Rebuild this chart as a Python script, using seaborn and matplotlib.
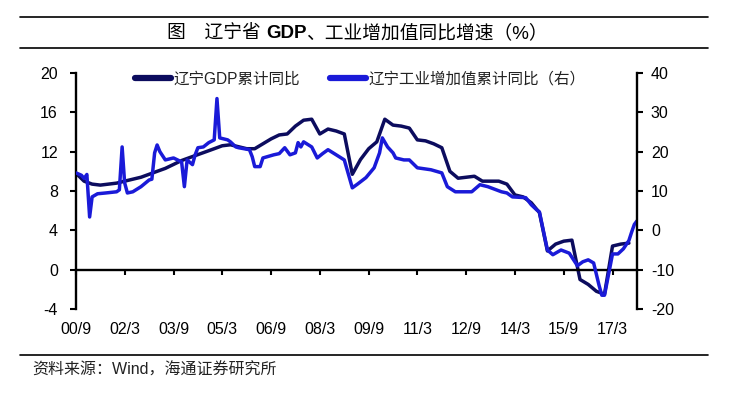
import matplotlib
matplotlib.use('Agg')
import matplotlib.pyplot as plt
from matplotlib.lines import Line2D
import seaborn as sns
import pandas as pd

# ---------------- data ----------------
gdp_start = '2000-09-01'   # quarterly cumulative YoY, Liaoning GDP (left axis)
gdp_values = [9.8, 9.0, 8.7, 8.6, 8.7, 8.8, 9.0, 9.2, 9.4, 9.7,
              10.0, 10.3, 10.7, 11.1, 11.4, 11.7, 12.0, 12.3, 12.6, 12.7,
              12.5, 12.3, 12.3, 12.8, 13.3, 13.7, 13.8, 14.6, 15.2, 15.3,
              13.8, 14.3, 14.1, 13.8, 9.7, 11.2, 12.3, 13.0, 15.3, 14.7,
              14.6, 14.4, 13.2, 13.1, 12.8, 12.4, 10.0, 9.3, 9.4, 9.5,
              9.0, 9.0, 9.0, 8.7, 7.6, 7.4, 6.8, 5.8, 1.9, 2.6,
              2.9, 3.0, -1.0, -1.5, -2.2, -2.5, 2.4, 2.6, 2.7]

ind_dates = ['2000-09', '2000-11', '2000-12', '2001-01', '2001-02', '2001-03', '2001-05',
             '2001-08', '2001-12', '2002-01', '2002-02', '2002-03', '2002-04', '2002-06',
             '2002-09', '2002-12', '2003-01', '2003-02', '2003-03', '2003-04', '2003-06',
             '2003-09', '2003-12', '2004-01', '2004-02', '2004-04', '2004-05', '2004-06',
             '2004-08', '2004-10', '2004-12', '2005-01', '2005-02', '2005-05', '2005-06',
             '2005-08', '2005-09', '2006-01', '2006-02', '2006-03', '2006-05', '2006-06',
             '2006-10', '2006-12', '2007-02', '2007-04', '2007-06', '2007-07', '2007-08',
             '2007-09', '2007-12', '2008-02', '2008-04', '2008-06', '2008-09', '2008-12',
             '2009-03', '2009-05', '2009-08', '2009-11', '2010-01', '2010-02', '2010-04',
             '2010-06', '2010-07', '2010-10', '2010-12', '2011-03', '2011-08', '2011-12',
             '2012-02', '2012-05', '2012-11', '2013-02', '2013-05', '2013-10', '2013-12',
             '2014-02', '2014-07', '2014-09', '2014-11', '2014-12', '2015-03', '2015-05',
             '2015-08', '2015-11', '2016-02', '2016-04', '2016-06', '2016-08', '2016-10',
             '2016-11', '2016-12', '2017-02', '2017-03', '2017-05', '2017-07', '2017-09',
             '2017-10', '2017-11', '2017-12']
ind_values = [14.6, 14.0, 13.2, 14.2, 3.4, 8.5, 9.3,
              9.5, 9.8, 10.3, 21.2, 12.1, 9.5, 9.8,
              11.1, 12.8, 13.0, 19.7, 21.7, 20.0, 17.9,
              18.4, 17.4, 11.1, 17.9, 16.7, 19.2, 21.0,
              21.2, 22.3, 23.0, 33.5, 23.5, 23.0, 22.5,
              21.2, 21.0, 20.5, 18.7, 16.2, 16.2, 18.4,
              19.2, 19.5, 21.0, 19.2, 19.7, 22.3, 21.2,
              22.5, 21.2, 18.4, 19.5, 20.5, 19.2, 17.9,
              10.8, 11.8, 13.4, 15.9, 19.7, 23.5, 21.2,
              19.7, 18.4, 17.9, 17.9, 15.9, 15.4, 14.6,
              11.1, 9.8, 9.8, 11.6, 11.1, 9.8, 9.5,
              8.5, 8.3, 6.5, 5.2, 4.7, -5.0, -6.2,
              -5.0, -5.8, -9.0, -8.0, -7.5, -8.3, -14.0,
              -16.5, -16.5, -9.3, -6.0, -6.0, -4.7, -2.6,
              -0.5, 1.5, 2.4]

xtick_dates = ['2000-09', '2002-03', '2003-09', '2005-03', '2006-09', '2008-03',
               '2009-09', '2011-03', '2012-09', '2014-03', '2015-09', '2017-03']
xtick_labels = ['00/9', '02/3', '03/9', '05/3', '06/9', '08/3',
                '09/9', '11/3', '12/9', '14/3', '15/9', '17/3']
left_ticks = [-4, 0, 4, 8, 12, 16, 20]
right_ticks = [-20, -10, 0, 10, 20, 30, 40]

gdp_label = '辽宁GDP累计同比'
ind_label = '辽宁工业增加值累计同比（右）'
title_parts = [('图\u3000辽宁省 ', 'normal'), ('GDP', 'bold'), ('、工业增加值同比增速（%）', 'normal')]
source_text = '资料来源：Wind，海通证券研究所'

# ---------------- style ----------------
sns.set_style('white')
plt.rcParams['font.family'] = ['Liberation Sans', 'Noto Sans CJK SC']
plt.rcParams['axes.unicode_minus'] = False

GDP_C = '#0c0c5e'
IND_C = '#1a1ad8'

W, H = 736, 397
fig = plt.figure(figsize=(W / 100, H / 100), dpi=100)
fig.patch.set_facecolor('white')
ax = fig.add_axes([76 / W, 1 - 309 / H, (637 - 76) / W, (309 - 73) / H])
ax.set_facecolor('white')

gdp_df = pd.DataFrame({'date': pd.date_range(gdp_start, periods=len(gdp_values), freq='3MS'),
                       'value': gdp_values})
ind_df = pd.DataFrame({'date': pd.to_datetime(ind_dates), 'value': ind_values})

sns.lineplot(data=gdp_df, x='date', y='value', ax=ax, color=GDP_C, linewidth=2.5,
             legend=False)
ax2 = ax.twinx()
sns.lineplot(data=ind_df, x='date', y='value', ax=ax2, color=IND_C, linewidth=2.5,
             legend=False)

ax.set_xlim(pd.Timestamp('2000-09-01'), pd.Timestamp('2017-12-01'))
ax.set_ylim(-4, 20)
ax2.set_ylim(-20, 40)
ax.set_yticks(left_ticks)
ax.set_yticklabels([str(v) for v in left_ticks])
ax2.set_yticks(right_ticks)
ax2.set_yticklabels([str(v) for v in right_ticks])
ax.set_xticks(pd.to_datetime(xtick_dates))
ax.set_xticklabels(xtick_labels)
for a in (ax, ax2):
    a.set_xlabel('')
    a.set_ylabel('')
    a.grid(False)

for s in ['top', 'right']:
    ax.spines[s].set_visible(False)
ax.spines['bottom'].set_position(('data', 0))
for s in ['top', 'left', 'bottom']:
    ax2.spines[s].set_visible(False)
for sp in (ax.spines['left'], ax.spines['bottom'], ax2.spines['right']):
    sp.set_linewidth(1.7)
    sp.set_color('black')

ax.tick_params(axis='y', direction='out', length=4.5, width=1.5, pad=8.5,
               labelsize=11.5, left=True, colors='black')
ax.tick_params(axis='x', direction='out', length=3.8, width=1.5, pad=34,
               labelsize=11.5, bottom=True, colors='black')
ax2.tick_params(axis='y', direction='out', length=4.5, width=1.5, pad=5.5,
                labelsize=11.5, right=True, colors='black')

# legend
leg = fig.legend([ax.lines[0], ax2.lines[0]], [gdp_label, ind_label],
                 loc='center left', bbox_to_anchor=(135 / W, 1 - 79 / H),
                 bbox_transform=fig.transFigure, ncol=2, frameon=False,
                 fontsize=11.2, handlelength=2.3, handletextpad=0.2,
                 columnspacing=1.9, borderpad=0, borderaxespad=0)
for h in leg.legend_handles:
    h.set_linewidth(4.5)
for t in leg.get_texts():
    t.set_color('#222222')

# frame lines
for y in (17, 48, 355):
    fig.add_artist(Line2D([20 / W, 708 / W], [1 - y / H, 1 - y / H],
                          transform=fig.transFigure, color='black', linewidth=1.2))

# title in pieces (GDP bold)
title_texts = [fig.text(0, 1 - 33 / H, p, fontsize=13.5, fontweight=w, va='center',
                        ha='left', color='black') for p, w in title_parts]
fig.canvas.draw()
r = fig.canvas.get_renderer()
x = 167
for t in title_texts:
    t.set_x(x / W)
    x += t.get_window_extent(r).width

fig.text(32 / W, 1 - 370 / H, source_text, fontsize=11.5, va='center', ha='left',
         color='#222222')

fig.savefig('out.png', dpi=100, facecolor='white')
